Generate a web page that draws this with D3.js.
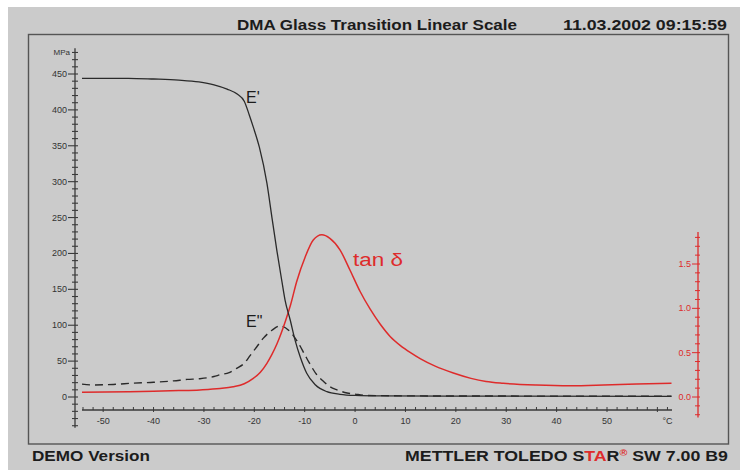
<!DOCTYPE html>
<html><head><meta charset="utf-8">
<script src="https://cdn.jsdelivr.net/npm/d3@7/dist/d3.min.js"></script>
<style>body{margin:0;background:#fff}svg{display:block;font-family:"Liberation Sans",Arial,sans-serif}</style>
</head><body><svg id="c" width="740" height="470"></svg>
<script>
// ---- data ----
const storageTemp = [-54.2,-45,-40,-35,-31,-28,-25.4,-23.4,-22,-21,-20.2,-19,-17.5,-16.5,-15.5,-14.5,-13.9,-12.9,-11.9,-10.9,-9.6,-7.9,-5.6,-3,0,5,20,62.8];
const storageMPa  = [444,444,443,441.5,439,435,429,422,412,393,376,348,298,250,203,160,135,108,79,56,33,17,7.4,3.8,2.2,1.5,1.2,1.0];
const lossTemp = [-54.2,-52,-48,-44,-40,-36,-33.3,-30.8,-28,-26.8,-25,-23.5,-22,-20.8,-19.5,-18.2,-16.5,-14.9,-13.2,-11.6,-9.6,-7.6,-6.3,-5,-3.6,-1.6,0,2.3,10,30,62.8];
const lossMPa  = [18,16.8,17.5,19.3,20.5,22.5,24.5,25.5,28.5,31,34,40,47,58,70,82,93,99,93,79,54,31,22,14.5,10,5.6,4,2.2,1.6,1.3,1.2];
const tanTemp  = [-54.2,-45,-40,-35,-30.8,-26.8,-24.2,-22,-20.2,-18.8,-17.5,-16.5,-15.5,-13.8,-12.8,-11.6,-9.9,-8.3,-6.6,-5,-3,-1,1,3,5,7,9,11,13,16,19.5,23,26,29.4,36,42.7,49.3,55.9,62.8];
const tanDelta = [0.053,0.06,0.065,0.072,0.08,0.095,0.115,0.15,0.21,0.28,0.38,0.48,0.6,0.86,1.04,1.30,1.58,1.77,1.83,1.79,1.66,1.43,1.19,0.99,0.82,0.68,0.58,0.5,0.43,0.345,0.27,0.21,0.175,0.155,0.135,0.127,0.135,0.147,0.155];
const xTickLabels = [-50,-40,-30,-20,-10,0,10,20,30,40,50];
const leftTickLabels = [0,50,100,150,200,250,300,350,400,450];
const rightTickLabels = [0.0,0.5,1.0,1.5];

const svg = d3.select("#c");
const paper = "#cbcbcb", ink = "#1c1c1c", red = "#de2b2b", axisInk = "#3a3a3a";

svg.append("rect").attr("x",8).attr("y",7).attr("width",732).attr("height",463).attr("fill",paper);
svg.append("rect").attr("x",28.5).attr("y",34.5).attr("width",700).attr("height",409.5)
  .attr("fill","none").attr("stroke","#555").attr("stroke-width",1.4);

// scales
const x = d3.scaleLinear().domain([-54.2,62.9]).range([82,672]);
const yL = d3.scaleLinear().domain([0,450]).range([397,74]);
const yR = d3.scaleLinear().domain([0,1.5]).range([397,264]);

// ---- left axis ----
const axL = 75;
const gL = svg.append("g").attr("stroke",axisInk);
gL.append("line").attr("x1",axL).attr("x2",axL).attr("y1",yL(486)).attr("y2",yL(-43)).attr("stroke-width",1.3);
d3.range(-40,490,10).forEach(v=>{
  const major = v%50===0 && v>=0 && v<=450;
  gL.append("line").attr("x1",major?axL-7:axL-3).attr("x2",axL+3)
    .attr("y1",yL(v)).attr("y2",yL(v)).attr("stroke-width",1.1);
});
svg.append("g").selectAll("text").data(leftTickLabels).join("text")
  .attr("x",axL-8).attr("y",d=>yL(d)+3).attr("text-anchor","end")
  .attr("font-size",9).attr("fill","#333").text(d=>d);
svg.append("text").attr("x",axL-5).attr("y",yL(480)+3).attr("text-anchor","end")
  .attr("font-size",8).attr("fill","#333").text("MPa");

// ---- x axis ----
const axY = 410;
const gX = svg.append("g").attr("stroke",axisInk);
gX.append("line").attr("x1",x(-54.2)).attr("x2",x(62.9)).attr("y1",axY).attr("y2",axY).attr("stroke-width",1.3);
d3.range(-54,63,2).forEach(v=>{
  const major = v%10===0;
  gX.append("line").attr("x1",x(v)).attr("x2",x(v)).attr("y1",axY-3).attr("y2",major?axY+2:axY)
    .attr("stroke-width",1);
});
svg.append("g").selectAll("text").data(xTickLabels).join("text")
  .attr("x",d=>x(d)).attr("y",axY+14).attr("text-anchor","middle")
  .attr("font-size",9).attr("fill","#333").text(d=>d);
svg.append("text").attr("x",x(62)).attr("y",axY+14).attr("text-anchor","middle")
  .attr("font-size",9).attr("fill","#333").text("°C");

// ---- right axis ----
const axR = 698;
const gR = svg.append("g").attr("stroke",red);
gR.append("line").attr("x1",axR).attr("x2",axR).attr("y1",yR(1.86)).attr("y2",yR(-0.23)).attr("stroke-width",1.3);
d3.range(-2,19,1).forEach(i=>{
  const v=i/10, major = i%5===0 && i>=0 && i<=15;
  gR.append("line").attr("x1",major?axR-6:axR-3).attr("x2",axR+2)
    .attr("y1",yR(v)).attr("y2",yR(v)).attr("stroke-width",1);
});
svg.append("g").selectAll("text").data(rightTickLabels).join("text")
  .attr("x",axR-7).attr("y",d=>yR(d)+3).attr("text-anchor","end")
  .attr("font-size",9).attr("fill",red).text(d=>d.toFixed(1));

// ---- curves ----
const mk = (xs,ys,sy)=>d3.line().x((d,i)=>x(xs[i])).y((d,i)=>sy(ys[i])).curve(d3.curveMonotoneX)(xs);
svg.append("path").attr("d",mk(lossTemp,lossMPa,yL)).attr("fill","none")
  .attr("stroke","#2a2a2a").attr("stroke-width",1.4).attr("stroke-dasharray","8,5");
svg.append("path").attr("d",mk(tanTemp,tanDelta,yR)).attr("fill","none")
  .attr("stroke",red).attr("stroke-width",1.5);
svg.append("path").attr("d",mk(storageTemp,storageMPa,yL)).attr("fill","none")
  .attr("stroke","#2a2a2a").attr("stroke-width",1.3);

// ---- curve labels ----
svg.append("text").attr("x",246).attr("y",103).attr("font-size",16).attr("fill",ink).text("E'");
svg.append("text").attr("x",246).attr("y",327).attr("font-size",16).attr("fill",ink).text('E"');
svg.append("text").attr("x",353).attr("y",266).attr("font-size",18).attr("fill",red)
  .attr("textLength",50).attr("lengthAdjust","spacingAndGlyphs").text("tan δ");

// ---- header / footer ----
svg.append("text").attr("x",237).attr("y",30).attr("font-size",14).attr("font-weight","bold")
  .attr("fill",ink).attr("textLength",280).attr("lengthAdjust","spacingAndGlyphs")
  .text("DMA Glass Transition Linear Scale");
svg.append("text").attr("x",563).attr("y",30).attr("font-size",14).attr("font-weight","bold")
  .attr("fill",ink).attr("textLength",164).attr("lengthAdjust","spacingAndGlyphs")
  .text("11.03.2002 09:15:59");
svg.append("text").attr("x",32).attr("y",461).attr("font-size",15).attr("font-weight","bold")
  .attr("fill",ink).attr("textLength",118).attr("lengthAdjust","spacingAndGlyphs")
  .text("DEMO Version");
const ft = svg.append("text").attr("x",405).attr("y",461).attr("font-size",15).attr("font-weight","bold")
  .attr("fill",ink).attr("textLength",323).attr("lengthAdjust","spacingAndGlyphs");
ft.append("tspan").text("METTLER TOLEDO S");
ft.append("tspan").attr("fill",red).text("TA");
ft.append("tspan").text("R");
ft.append("tspan").attr("fill",red).attr("font-size",9).attr("dy",-5).text("®");
ft.append("tspan").attr("dy",5).text(" SW 7.00 B9");
</script></body></html>
